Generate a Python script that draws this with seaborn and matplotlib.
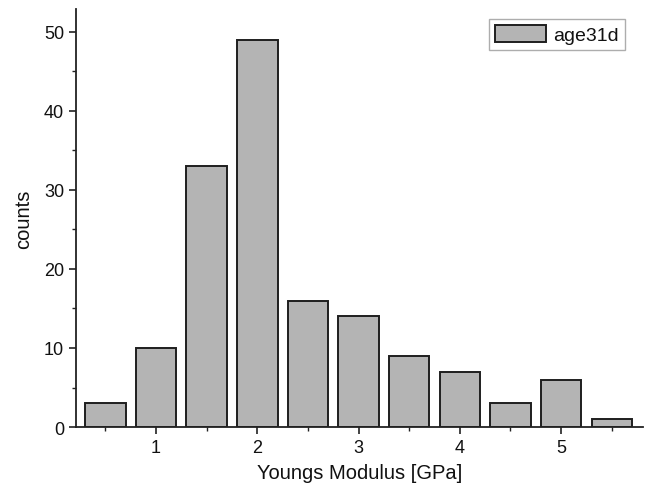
import matplotlib
matplotlib.use("Agg")
import matplotlib.pyplot as plt
import seaborn as sns
import pandas as pd
from matplotlib.ticker import MultipleLocator

centers = [0.5, 1.0, 1.5, 2.0, 2.5, 3.0, 3.5, 4.0, 4.5, 5.0, 5.5]
counts = [3, 10, 33, 49, 16, 14, 9, 7, 3, 6, 1]
series_label = "age31d"
xticks = [1, 2, 3, 4, 5]
yticks = [0, 10, 20, 30, 40, 50]

sns.set_style("ticks")
plt.rcParams['font.family'] = ['Liberation Sans', 'DejaVu Sans']
plt.rcParams['text.color'] = '#111111'
plt.rcParams['axes.labelcolor'] = '#111111'
plt.rcParams['xtick.labelcolor'] = '#111111'
plt.rcParams['ytick.labelcolor'] = '#111111'

df = pd.DataFrame({"x": centers, "y": counts})

fig = plt.figure(figsize=(6.51, 4.89), dpi=100)
ax = fig.add_axes([0.1167, 0.1247, 0.988 - 0.1167, 0.9796 - 0.1247])

sns.barplot(data=df, x="x", y="y", native_scale=True, width=0.8,
            color="#b4b4b4", saturation=1, edgecolor="#1e1e1e",
            linewidth=1.4, label=series_label, ax=ax, errorbar=None)

ax.set_xlim(0.21, 5.81)
ax.set_ylim(0, 52.9)
ax.set_xticks(xticks)
ax.set_xticklabels([str(t) for t in xticks])
ax.set_yticks(yticks)
ax.xaxis.set_minor_locator(MultipleLocator(0.5))
ax.yaxis.set_minor_locator(MultipleLocator(5))
ax.tick_params(axis="both", which="major", length=5, width=1.2, labelsize=13, color="#222222", direction="out")
ax.tick_params(axis="both", which="minor", length=3, width=1.0, color="#222222", direction="out")

for s in ["top", "right"]:
    ax.spines[s].set_visible(False)
for s in ["left", "bottom"]:
    ax.spines[s].set_linewidth(1.3)
    ax.spines[s].set_color("#222222")

ax.set_xlabel("Youngs Modulus [GPa]", fontsize=14.5, labelpad=5)
ax.set_ylabel("counts", fontsize=14.5, labelpad=8)

leg = ax.legend(loc="upper right", fontsize=14, frameon=True, fancybox=False,
                edgecolor="#999999", handlelength=2.6, handleheight=1.0,
                borderpad=0.3, handletextpad=0.4, bbox_to_anchor=(0.985, 1.0))
leg.get_frame().set_linewidth(1.0)

fig.savefig("out.png", dpi=100)
